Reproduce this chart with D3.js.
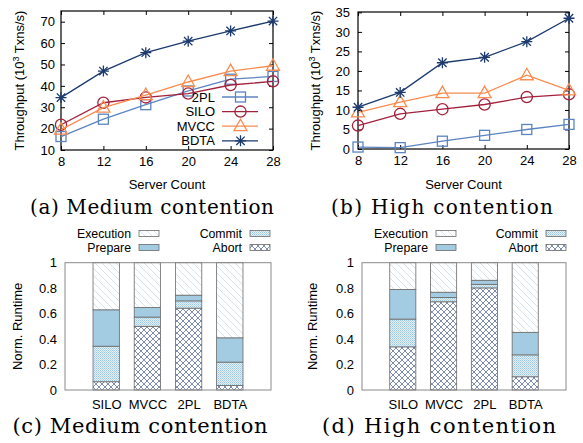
<!DOCTYPE html>
<html>
<head>
<meta charset="utf-8">
<script src="https://cdn.jsdelivr.net/npm/d3@7"></script>
<style>
body{margin:0;background:#fff}
svg{display:block}
text{font-family:"Liberation Sans",Arial,sans-serif;fill:#000}
.title{font-family:"DejaVu Serif",serif}
</style>
</head>
<body>
<svg id="chart" width="583" height="443"></svg>
<script>
// throughput, 10^3 txns/s
let servers = [8, 12, 16, 20, 24, 28]
let mediumTicks = [10, 20, 30, 40, 50, 60, 70]
let highTicks = [0, 5, 10, 15, 20, 25, 30, 35]

let medium2PL  = [16.3, 24.4, 31.2, 37.6, 43.1, 44.4]
let mediumSILO = [21.8, 32.1, 34.6, 36.4, 40.4, 42.1]
let mediumMVCC = [19.5, 29.8, 35.7, 41.8, 46.9, 49.4]
let mediumBDTA = [34.5, 46.9, 55.5, 60.9, 65.7, 70.3]

let high2PL  = [0.5, 0.35, 2.0, 3.5, 5.0, 6.3]
let highSILO = [6.0, 9.0, 10.2, 11.4, 13.3, 14.0]
let highMVCC = [9.4, 12.0, 14.3, 14.3, 18.9, 15.0]
let highBDTA = [10.7, 14.5, 22.1, 23.5, 27.5, 33.5]

// runtime breakdown (fractions, stacked bottom-up)
let barSystems = ['SILO', 'MVCC', '2PL', 'BDTA']
let runtimeTicks = [0, 0.2, 0.4, 0.6, 0.8, 1]

let mediumAbort     = [0.065, 0.500, 0.643, 0.036]
let mediumCommit    = [0.279, 0.073, 0.057, 0.183]
let mediumPrepare   = [0.286, 0.075, 0.045, 0.191]
let mediumExecution = [0.370, 0.352, 0.255, 0.590]

let highAbort     = [0.339, 0.693, 0.802, 0.104]
let highCommit    = [0.218, 0.034, 0.028, 0.172]
let highPrepare   = [0.233, 0.041, 0.032, 0.177]
let highExecution = [0.210, 0.232, 0.138, 0.547]

let colors = {'2PL': '#5b84c0', 'SILO': '#a2213b', 'MVCC': '#f98c4f', 'BDTA': '#1c3a6e'}
let markers = {'2PL': 'square', 'SILO': 'circle', 'MVCC': 'triangle', 'BDTA': 'star'}

let svg = d3.select('#chart')

// patterns for the bars
let defs = svg.append('defs')
let p = defs.append('pattern').attr('id', 'execution').attr('patternUnits', 'userSpaceOnUse')
	.attr('width', 7).attr('height', 7)
p.append('rect').attr('width', 7).attr('height', 7).attr('fill', '#fff')
p.append('path').attr('d', 'M-1,-1L8,8M-1,6L1,8M6,-1L8,1').attr('stroke', '#c9dcec').attr('stroke-width', 0.8)

p = defs.append('pattern').attr('id', 'commit').attr('patternUnits', 'userSpaceOnUse')
	.attr('width', 2).attr('height', 2)
p.append('rect').attr('width', 2).attr('height', 2).attr('fill', '#e4f0f8')
p.append('rect').attr('width', 1).attr('height', 1).attr('fill', '#9cc6e2')
p.append('rect').attr('x', 1).attr('y', 1).attr('width', 1).attr('height', 1).attr('fill', '#b8d7eb')

p = defs.append('pattern').attr('id', 'abort').attr('patternUnits', 'userSpaceOnUse')
	.attr('width', 6).attr('height', 6)
p.append('rect').attr('width', 6).attr('height', 6).attr('fill', '#fff')
p.append('path').attr('d', 'M0,0L6,6M6,0L0,6M-1,5L1,7M5,-1L7,1M-1,1L1,-1M5,7L7,5')
	.attr('stroke', '#6f80a6').attr('stroke-width', 0.9)

let phaseFill = {Execution: 'url(#execution)', Prepare: '#a3cbe2', Commit: 'url(#commit)', Abort: 'url(#abort)'}

function drawMarker(g, type, x, y, color){
	if(type == 'square'){
		g.append('rect').attr('x', x - 5).attr('y', y - 5).attr('width', 10).attr('height', 10)
			.attr('fill', 'none').attr('stroke', color).attr('stroke-width', 1.3)
	}
	if(type == 'circle'){
		g.append('circle').attr('cx', x).attr('cy', y).attr('r', 5.6)
			.attr('fill', 'none').attr('stroke', color).attr('stroke-width', 1.3)
	}
	if(type == 'triangle'){
		g.append('path').attr('d', `M${x},${y - 7}L${x + 6.5},${y + 4.5}L${x - 6.5},${y + 4.5}Z`)
			.attr('fill', 'none').attr('stroke', color).attr('stroke-width', 1.3)
	}
	if(type == 'star'){
		let r = 5.5, d = 4.2
		g.append('path').attr('d', `M${x - r},${y}L${x + r},${y}M${x},${y - r}L${x},${y + r}M${x - d},${y - d}L${x + d},${y + d}M${x - d},${y + d}L${x + d},${y - d}`)
			.attr('fill', 'none').attr('stroke', color).attr('stroke-width', 1.3)
	}
}

function lineChart(opt){
	let x = d3.scaleLinear().domain([8, 28]).range([opt.left, opt.right])
	let y = d3.scaleLinear().domain(opt.domain).range([opt.bottom, opt.top])
	let g = svg.append('g')

	g.append('g').attr('transform', `translate(${opt.left},0)`)
		.call(d3.axisLeft(y).tickValues(opt.ticks).tickSize(-4).tickPadding(opt.pad))
	g.append('g').attr('transform', `translate(${opt.right},0)`)
		.call(d3.axisRight(y).tickValues(opt.ticks).tickSize(-4).tickFormat(''))
	g.append('g').attr('transform', `translate(0,${opt.bottom})`)
		.call(d3.axisBottom(x).tickValues(servers).tickSize(-4).tickPadding(7))
	g.append('g').attr('transform', `translate(0,${opt.top})`)
		.call(d3.axisTop(x).tickValues(servers).tickSize(-4).tickFormat(''))
	g.selectAll('.domain').remove()
	g.selectAll('.tick line').attr('stroke', '#000')
	g.selectAll('.tick text').attr('font-size', 13).attr('font-family', '"Liberation Sans",Arial,sans-serif')

	g.append('rect').attr('x', opt.left).attr('y', opt.top)
		.attr('width', opt.right - opt.left).attr('height', opt.bottom - opt.top)
		.attr('fill', 'none').attr('stroke', '#000').attr('stroke-width', 1.2)

	opt.series.forEach(function(s){
		let pts = servers.map(function(v, i){ return [x(v), y(s.values[i])] })
		g.append('path').datum(pts).attr('d', d3.line())
			.attr('fill', 'none').attr('stroke', colors[s.name]).attr('stroke-width', 1.3)
		pts.forEach(function(pt){ drawMarker(g, markers[s.name], pt[0], pt[1], colors[s.name]) })
	})

	let cy = (opt.top + opt.bottom) / 2
	g.append('text').attr('transform', `translate(${opt.ylabelX},${cy}) rotate(-90)`)
		.attr('text-anchor', 'middle').attr('font-size', 13)
		.html('Throughput (10<tspan dy="-5" font-size="9">3</tspan><tspan dy="5"> Txns/s)</tspan>')
	g.append('text').attr('x', (opt.left + opt.right) / 2).attr('y', 189)
		.attr('text-anchor', 'middle').attr('font-size', 13).text('Server Count')
	g.append('text').attr('class', 'title').attr('x', opt.titleX).attr('y', 214)
		.attr('text-anchor', 'middle').attr('font-size', 20)
		.attr('textLength', opt.titleW).attr('lengthAdjust', 'spacing').text(opt.title)
	return g
}

let g1 = lineChart({left: 61, right: 273, top: 11, bottom: 150, domain: [10, 75], ticks: mediumTicks, pad: 6,
	ylabelX: 24, titleX: 152, titleW: 244, title: '(a) Medium contention',
	series: [{name: '2PL', values: medium2PL}, {name: 'SILO', values: mediumSILO},
		{name: 'MVCC', values: mediumMVCC}, {name: 'BDTA', values: mediumBDTA}]})

lineChart({left: 358, right: 569, top: 12, bottom: 149, domain: [0, 35.1], ticks: highTicks, pad: 8,
	ylabelX: 320, titleX: 442, titleW: 222, title: '(b) High contention',
	series: [{name: '2PL', values: high2PL}, {name: 'SILO', values: highSILO},
		{name: 'MVCC', values: highMVCC}, {name: 'BDTA', values: highBDTA}]})

// legend of the first chart
let names = ['2PL', 'SILO', 'MVCC', 'BDTA']
names.forEach(function(n, i){
	let ly = 97 + i * 14.6
	g1.append('text').attr('x', 215).attr('y', ly + 4.6).attr('text-anchor', 'end').attr('font-size', 13).text(n)
	g1.append('line').attr('x1', 222).attr('x2', 258).attr('y1', ly).attr('y2', ly)
		.attr('stroke', colors[n]).attr('stroke-width', 1.3)
	drawMarker(g1, markers[n], 240.5, ly, colors[n])
})

function barChart(opt){
	let x = d3.scaleLinear().domain([-1, 4]).range([opt.left, opt.right])
	let y = d3.scaleLinear().domain([0, 1]).range([opt.bottom, opt.top])
	let g = svg.append('g')
	let bw = x(0.64) - x(0)

	g.append('g').attr('transform', `translate(${opt.left},0)`)
		.call(d3.axisLeft(y).tickValues(runtimeTicks).tickSize(0).tickPadding(8).tickFormat(d3.format('~g')))
	g.append('g').attr('transform', `translate(0,${opt.bottom})`)
		.call(d3.axisBottom(x).tickValues([0, 1, 2, 3]).tickSize(0).tickPadding(10)
			.tickFormat(function(d){ return barSystems[d] }))
	g.selectAll('.domain').remove()
	g.selectAll('.tick text').attr('font-size', 13).attr('font-family', '"Liberation Sans",Arial,sans-serif')

	let rows = barSystems.map(function(s, i){
		return {i: i, Abort: opt.abort[i], Commit: opt.commit[i], Prepare: opt.prepare[i], Execution: opt.execution[i]}
	})
	let stack = d3.stack().keys(['Abort', 'Commit', 'Prepare', 'Execution'])(rows)
	stack.forEach(function(layer){
		g.selectAll(null).data(layer).enter().append('rect')
			.attr('x', function(d){ return x(d.data.i) - bw / 2 })
			.attr('width', bw)
			.attr('y', function(d){ return y(d[1]) })
			.attr('height', function(d){ return y(d[0]) - y(d[1]) })
			.attr('fill', phaseFill[layer.key])
			.attr('stroke', '#6a6a6a').attr('stroke-width', 0.8)
	})

	g.append('rect').attr('x', opt.left).attr('y', opt.top)
		.attr('width', opt.right - opt.left).attr('height', opt.bottom - opt.top)
		.attr('fill', 'none').attr('stroke', '#8a8a8a').attr('stroke-width', 1)

	let legend = [['Execution', opt.leg1, 233.5], ['Prepare', opt.leg1, 247.5], ['Commit', opt.leg2, 233.5], ['Abort', opt.leg2, 247.5]]
	legend.forEach(function(l){
		g.append('text').attr('x', l[1]).attr('y', l[2] + 4.3).attr('text-anchor', 'end').attr('font-size', 12.3).text(l[0])
		g.append('rect').attr('x', l[1] + 8).attr('y', l[2] - 3).attr('width', 20).attr('height', 6)
			.attr('fill', phaseFill[l[0]]).attr('stroke', '#6a6a6a').attr('stroke-width', 0.8)
	})

	g.append('text').attr('transform', `translate(${opt.ylabelX},${(opt.top + opt.bottom) / 2}) rotate(-90)`)
		.attr('text-anchor', 'middle').attr('font-size', 13).text('Norm. Runtime')
	g.append('text').attr('class', 'title').attr('x', opt.titleX).attr('y', 433)
		.attr('text-anchor', 'middle').attr('font-size', 21)
		.attr('textLength', opt.titleW).attr('lengthAdjust', 'spacing').text(opt.title)
}

barChart({left: 65, right: 271, top: 262.7, bottom: 390, leg1: 131, leg2: 242, ylabelX: 22, titleX: 140, titleW: 255,
	title: '(c) Medium contention',
	abort: mediumAbort, commit: mediumCommit, prepare: mediumPrepare, execution: mediumExecution})

barChart({left: 362, right: 566, top: 262.7, bottom: 390, leg1: 428, leg2: 538, ylabelX: 317, titleX: 439, titleW: 234,
	title: '(d) High contention',
	abort: highAbort, commit: highCommit, prepare: highPrepare, execution: highExecution})
</script>
</body>
</html>
